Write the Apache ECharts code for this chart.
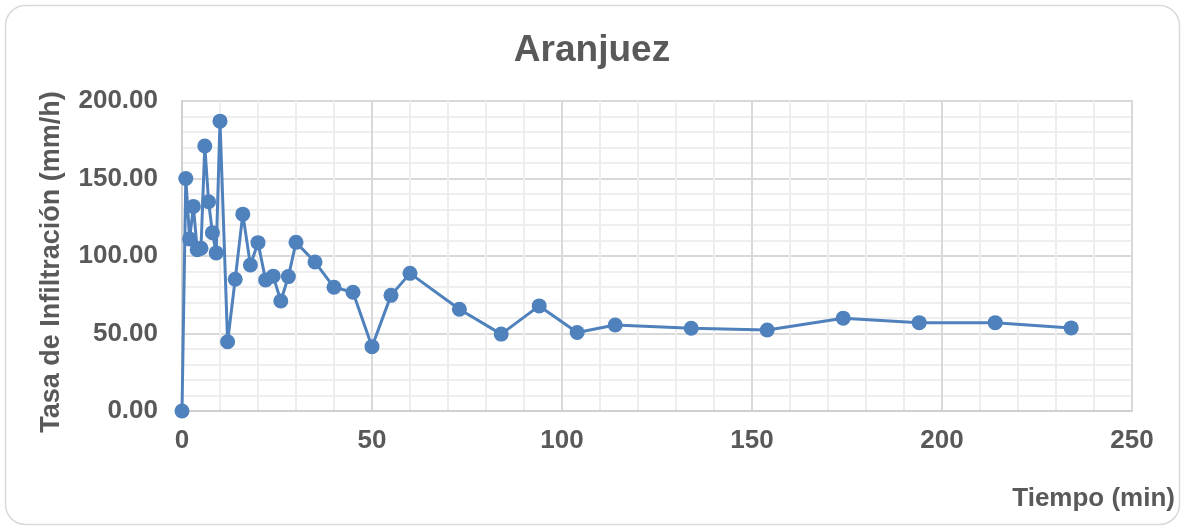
<!DOCTYPE html>
<html>
<head>
<meta charset="utf-8">
<title>Aranjuez</title>
<script src="https://cdn.jsdelivr.net/npm/echarts@6/dist/echarts.min.js"></script>
<style>
  html, body { margin: 0; padding: 0; background: #ffffff; }
  #chart { width: 1184px; height: 529px; }
</style>
</head>
<body>
<div id="chart"></div>
<script>
// Infiltration test readings: elapsed time (min) and infiltration rate (mm/h)
const tiempo = [0, 1, 2, 3, 4, 5, 6, 7, 8, 9, 10, 12, 14, 16, 18, 20, 22, 24, 26, 28, 30,
  35, 40, 45, 50, 55, 60, 73, 84, 94, 104, 114, 134, 154, 174, 194, 214, 234];
const tasa = [0, 150, 111, 132, 104, 105, 171, 135, 115, 102, 187, 44.7, 85, 127, 94.2, 108.6,
  84.5, 87, 71, 86.7, 108.8, 96.1, 79.8, 76.6, 41.5, 74.6, 88.8, 65.6, 49.6, 67.8, 50.6,
  55.5, 53.4, 52.3, 59.9, 57, 57, 53.6];

const xTicks = { min: 0, max: 250, interval: 50 };
const yTicks = { min: 0, max: 200, interval: 50 };

const titulo = 'Aranjuez';
const nombreX = 'Tiempo (min)';
const nombreY = 'Tasa de Infiltración (mm/h)';

const textGray = '#595959';
const fontFam = '"Liberation Sans", Arial, sans-serif';

const chart = echarts.init(document.getElementById('chart'), null, { renderer: 'canvas' });

chart.setOption({
  animation: false,
  backgroundColor: '#ffffff',
  textStyle: { fontFamily: fontFam },
  graphic: [{
    type: 'rect',
    shape: { x: 5.5, y: 5.5, width: 1174, height: 519, r: 20 },
    style: { fill: 'none', stroke: '#d9d9d9', lineWidth: 1.5 },
    silent: true,
    z: -1
  }],
  title: {
    text: titulo,
    left: 'center',
    top: 27,
    textStyle: { color: textGray, fontSize: 37, fontWeight: 'bold', fontFamily: fontFam }
  },
  grid: {
    left: 182, right: 52, top: 101, bottom: 118,
    show: true, borderColor: '#d9d9d9', borderWidth: 1.5, backgroundColor: 'transparent'
  },
  xAxis: {
    type: 'value',
    min: xTicks.min, max: xTicks.max, interval: xTicks.interval,
    name: nombreX,
    nameLocation: 'end',
    nameGap: 43,
    nameTextStyle: {
      color: textGray, fontSize: 26, fontWeight: 'bold', fontFamily: fontFam,
      align: 'right', verticalAlign: 'top', padding: [75, 0, 0, 0]
    },
    axisLine: { show: true, lineStyle: { color: '#d0d0d0', width: 2 } },
    axisTick: { show: false },
    axisLabel: { color: textGray, fontSize: 26, fontWeight: 'bold', fontFamily: fontFam, margin: 17 },
    splitLine: { show: true, lineStyle: { color: '#d9d9d9', width: 2 } },
    minorTick: { show: false, splitNumber: 5 },
    minorSplitLine: { show: true, lineStyle: { color: '#eeeeee', width: 2 } }
  },
  yAxis: {
    type: 'value',
    min: yTicks.min, max: yTicks.max, interval: yTicks.interval,
    name: nombreY,
    nameLocation: 'middle',
    nameGap: 117,
    nameTextStyle: {
      color: textGray, fontSize: 27, fontWeight: 'bold', fontFamily: fontFam,
      padding: [0, 12, 0, 0]
    },
    axisLine: { show: true, lineStyle: { color: '#d0d0d0', width: 2 } },
    axisTick: { show: false },
    axisLabel: {
      color: textGray, fontSize: 26, fontWeight: 'bold', fontFamily: fontFam, margin: 24,
      formatter: v => v.toFixed(2)
    },
    splitLine: { show: true, lineStyle: { color: '#d9d9d9', width: 2 } },
    minorTick: { show: false, splitNumber: 5 },
    minorSplitLine: { show: true, lineStyle: { color: '#eeeeee', width: 2 } }
  },
  series: [{
    type: 'line',
    data: tiempo.map((t, i) => [t, tasa[i]]),
    symbol: 'circle',
    symbolSize: 15,
    clip: false,
    lineStyle: { color: '#4f81bd', width: 3 },
    itemStyle: { color: '#4f81bd' },
    z: 5
  }]
});
</script>
</body>
</html>
